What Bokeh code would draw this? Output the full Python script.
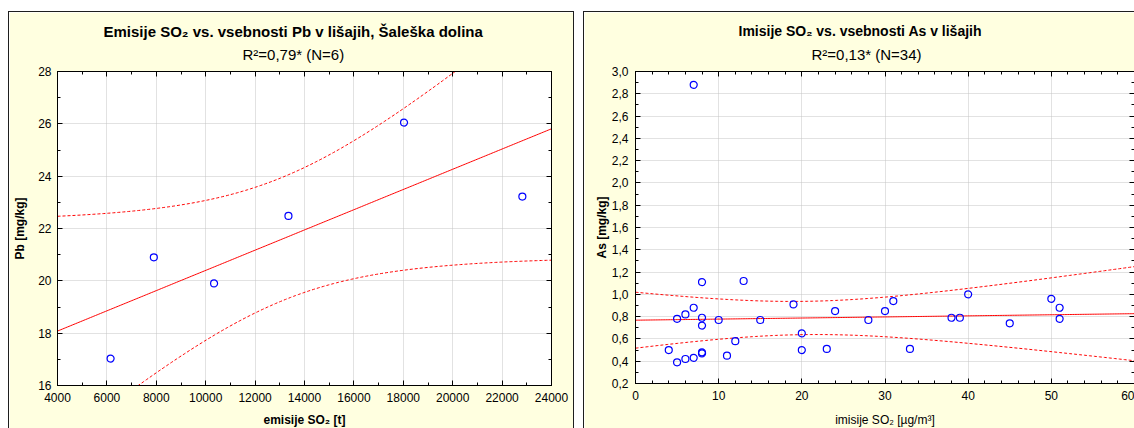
import numpy as np
from bokeh.plotting import figure
from bokeh.models import LinearAxis, Range1d, SingleIntervalTicker, Title, CustomJSTickFormatter
from bokeh.layouts import row
from bokeh.embed import file_html
from bokeh.resources import INLINE

# ---------------- data: left panel (SO2 emissions vs. Pb) ----------------
pb_title = "Emisije SO₂ vs. vsebnosti Pb v lišajih, Šaleška dolina"
pb_subtitle = "R²=0,79* (N=6)"
pb_xlabel = "emisije SO₂ [t]"
pb_ylabel = "Pb [mg/kg]"
so2_emissions = [6150, 7900, 10340, 13350, 18030, 22820]
pb_mgkg = [17.03, 20.90, 19.90, 22.48, 26.05, 23.22]

# ---------------- data: right panel (SO2 immissions vs. As) ----------------
as_title = "Imisije SO₂ vs. vsebnosti As v lišajih"
as_subtitle = "R²=0,13* (N=34)"
as_xlabel = "imisije SO₂ [µg/m³]"
as_ylabel = "As [mg/kg]"
so2_immissions = [4, 5, 5, 6, 6, 7, 7, 7, 8, 8, 8, 8, 8, 10, 11, 12, 13, 15, 19,
                  20, 20, 23, 24, 28, 30, 31, 33, 38, 39, 40, 45, 50, 51, 51]
as_mgkg = [0.50, 0.78, 0.39, 0.82, 0.42, 0.88, 0.43, 2.88, 1.11, 0.79, 0.72, 0.47, 0.48,
           0.77, 0.45, 0.58, 1.12, 0.77, 0.91, 0.65, 0.50, 0.51, 0.85, 0.77, 0.85, 0.94,
           0.51, 0.79, 0.79, 1.00, 0.74, 0.96, 0.88, 0.78]

FONT = "Liberation Sans"
PANEL_BG = "#FFFFE0"
BORDER = "1px solid #1e1e1e"


def regression_band(x, y, x_lo, x_hi, t_crit):
    x = np.asarray(x, float)
    y = np.asarray(y, float)
    n = len(x)
    slope, icpt = np.polyfit(x, y, 1)
    xs = np.linspace(x_lo, x_hi, 300)
    fit = icpt + slope * xs
    resid = y - (icpt + slope * x)
    s = np.sqrt(np.sum(resid ** 2) / (n - 2))
    sxx = np.sum((x - x.mean()) ** 2)
    hw = t_crit * s * np.sqrt(1.0 / n + (xs - x.mean()) ** 2 / sxx)
    return xs, fit, fit - hw, fit + hw


def style_axis(ax, size="12px"):
    ax.axis_line_color = "black"
    ax.major_tick_line_color = "black"
    ax.minor_tick_line_color = "black"
    ax.major_tick_in = 5
    ax.major_tick_out = 0
    ax.minor_tick_in = 3
    ax.minor_tick_out = 0
    ax.major_label_text_font = FONT
    ax.major_label_text_font_size = size
    ax.major_label_text_color = "black"
    ax.axis_label_text_font = FONT
    ax.axis_label_text_font_size = "12px"
    ax.axis_label_text_color = "black"


def make_panel(x, y, xr, yr, xtick, ytick, fw, fh, borders, title, subtitle,
               xlabel, ylabel, xlabel_bold, t_crit, title_off, sub_off,
               title_size="15px", title_standoff=-10, yfmt=None,
               ylab_standoff=8, ylab_label_standoff=6, xlab_standoff=8):
    bl, br, bt, bb = borders
    p = figure(frame_width=fw, frame_height=fh,
               min_border_left=bl, min_border_right=br,
               min_border_top=bt, min_border_bottom=bb,
               x_range=Range1d(*xr), y_range=Range1d(*yr),
               output_backend="svg", toolbar_location=None,
               background_fill_color="white", border_fill_color=PANEL_BG)
    p.outline_line_color = "black"
    p.xaxis.ticker = xtick
    p.yaxis.ticker = ytick
    for ax in p.axis:
        style_axis(ax)
    if yfmt is not None:
        p.yaxis.formatter = yfmt
    p.xaxis.axis_label = xlabel
    p.yaxis.axis_label = ylabel
    p.xaxis.axis_label_text_font_style = "bold" if xlabel_bold else "normal"
    p.yaxis.axis_label_text_font_style = "bold"
    p.xaxis.major_label_standoff = 7
    p.yaxis.major_label_standoff = ylab_label_standoff
    p.xaxis.axis_label_standoff = xlab_standoff
    p.yaxis.axis_label_standoff = ylab_standoff

    # frame ticks on the top and right sides (no labels)
    blank = CustomJSTickFormatter(code="return '';")
    for loc, tk in (("above", xtick), ("right", ytick)):
        ax = LinearAxis(ticker=tk, formatter=blank)
        style_axis(ax, size="0px")
        ax.major_label_standoff = 0
        p.add_layout(ax, loc)

    p.xgrid.grid_line_color = "#c4c4c4"
    p.ygrid.grid_line_color = "#c4c4c4"
    p.xgrid.grid_line_dash = "1 1"
    p.ygrid.grid_line_dash = "1 1"

    xs, fit, lo, hi = regression_band(x, y, xr[0], xr[1], t_crit)
    p.line(xs, fit, line_color="#ff0000", line_width=1)
    p.line(xs, lo, line_color="#ff0000", line_width=1, line_dash="3 2")
    p.line(xs, hi, line_color="#ff0000", line_width=1, line_dash="3 2")
    p.scatter(x, y, marker="circle", size=7, fill_color=None,
              line_color="#0000ff", line_width=1.2)

    p.add_layout(Title(text=subtitle, align="left", offset=sub_off, standoff=18,
                       text_font=FONT, text_font_size="15px", text_font_style="normal",
                       text_color="black"), "above")
    p.add_layout(Title(text=title, align="left", offset=title_off, standoff=title_standoff,
                       text_font=FONT, text_font_size=title_size, text_font_style="bold",
                       text_color="black"), "above")
    return p


p1 = make_panel(so2_emissions, pb_mgkg, (4000, 24000), (16, 28),
                SingleIntervalTicker(interval=2000, num_minor_ticks=2),
                SingleIntervalTicker(interval=2, num_minor_ticks=2),
                492, 313, (48, 24, 59, 44),
                pb_title, pb_subtitle, pb_xlabel, pb_ylabel, True, 2.776, 46, 185,
                title_size="15px", title_standoff=-10)
p1.margin = (11, 0, 0, 8)
p1.styles = {"border-top": BORDER, "border-left": BORDER, "border-right": BORDER}

comma_fmt = CustomJSTickFormatter(code="return tick.toFixed(1).replace('.', ',');")
p2 = make_panel(so2_immissions, as_mgkg, (0, 60), (0.2, 3.0),
                SingleIntervalTicker(interval=10, num_minor_ticks=5),
                SingleIntervalTicker(interval=0.2, num_minor_ticks=2),
                498, 311, (51, 1, 59, 46),
                as_title, as_subtitle, as_xlabel, as_ylabel, False, 2.037, 103, 176,
                title_size="14px", title_standoff=-9,
                yfmt=comma_fmt, ylab_standoff=0, ylab_label_standoff=7, xlab_standoff=10)
p2.margin = (11, 0, 0, 9)
p2.styles = {"border-top": BORDER, "border-left": BORDER}

layout = row(p1, p2)
open("out.html", "w").write(file_html(layout, INLINE))
